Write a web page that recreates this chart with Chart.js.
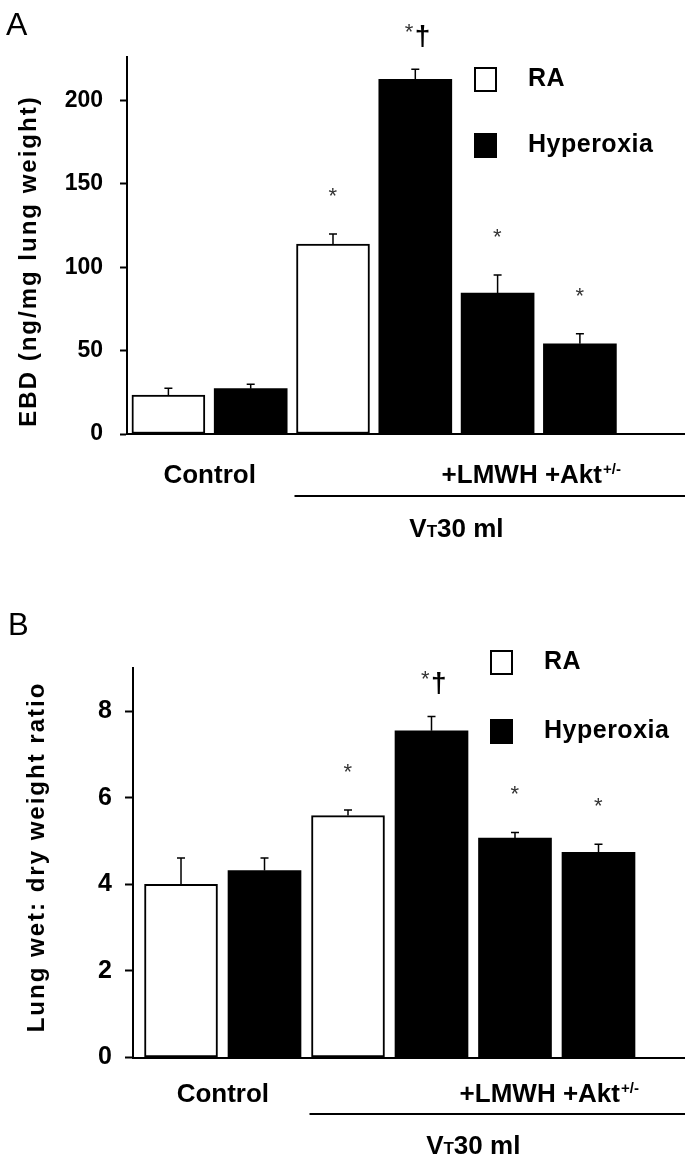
<!DOCTYPE html>
<html>
<head>
<meta charset="utf-8">
<script src="https://cdn.jsdelivr.net/npm/chart.js@4.4.1/dist/chart.umd.min.js"></script>
<style>
  body { margin: 0; background: #fff; }
  .panel { position: relative; width: 685px; height: 586px; }
  canvas { display: block; }
</style>
</head>
<body>
<div class="panel"><canvas id="chartA" width="685" height="586"></canvas></div>
<div class="panel"><canvas id="chartB" width="685" height="586"></canvas></div>
<script>
const FONT = '"Liberation Sans", Arial, sans-serif'

// bar order along the x axis
const barNames = ['Control RA', 'Control Hyperoxia', 'VT30 RA', 'VT30 Hyperoxia', 'VT30 +LMWH', 'VT30 +Akt+/-']
const raBars = [0, 2]
const hyperBars = [1, 3, 4, 5]
const marks = ['', '', '*', '*†', '*', '*']

// A: Evans blue dye
const ebdRA = [23.4, 113.9]
const ebdRAErr = [4.0, 6.0]
const ebdHyper = [27.2, 212.6, 84.5, 54.1]
const ebdHyperErr = [2.6, 6.0, 10.8, 6.0]
const ebdTicks = [0, 50, 100, 150, 200]

// B: wet/dry ratio
const wdRA = [4.0, 5.59]
const wdRAErr = [0.61, 0.13]
const wdHyper = [4.32, 7.55, 5.07, 4.74]
const wdHyperErr = [0.29, 0.33, 0.13, 0.19]
const wdTicks = [0, 2, 4, 6, 8]

function points(idx, vals) {
  return idx.map((x, i) => ({ x: x, y: vals[i] }))
}

// draw text centred on its ink box
function centerText(ctx, s, cx, cy) {
  ctx.textAlign = 'left'
  ctx.textBaseline = 'alphabetic'
  const m = ctx.measureText(s)
  const x = cx - (m.actualBoundingBoxRight - m.actualBoundingBoxLeft) / 2
  const y = cy + (m.actualBoundingBoxAscent - m.actualBoundingBoxDescent) / 2
  ctx.fillText(s, x, y)
}

const decor = {
  id: 'decor',
  afterDatasetsDraw(chart) {
    const { ctx, scales: { x, y } } = chart
    ctx.save()
    ctx.strokeStyle = '#000'
    ctx.lineWidth = 1.5
    chart.data.datasets.forEach(ds => {
      ds.data.forEach((p, i) => {
        const px = x.getPixelForValue(p.x)
        const y0 = y.getPixelForValue(p.y)
        const y1 = y.getPixelForValue(p.y + ds.errors[i])
        ctx.beginPath()
        ctx.moveTo(px, y0)
        ctx.lineTo(px, y1)
        ctx.moveTo(px - 4, y1)
        ctx.lineTo(px + 4, y1)
        ctx.stroke()
      })
    })
    ctx.restore()
  },
  afterDraw(chart, args, o) {
    const { ctx, scales: { x, y }, chartArea } = chart
    ctx.save()
    ctx.fillStyle = '#000'

    // significance marks
    const tops = []
    chart.data.datasets.forEach(ds => ds.data.forEach((p, i) => {
      tops[p.x] = y.getPixelForValue(p.y + ds.errors[i])
    }))
    marks.forEach((m, i) => {
      if (!m) return
      const cx = x.getPixelForValue(i)
      ctx.fillStyle = '#333'
      ctx.font = '22px ' + FONT
      if (m === '*') {
        centerText(ctx, '*', cx, tops[i] - 42)
      } else {
        centerText(ctx, '*', cx - 6, tops[i] - 41)
        ctx.fillStyle = '#000'
        ctx.font = 'bold 28px ' + FONT
        centerText(ctx, '†', cx + 7, tops[i] - 33)
      }
    })
    ctx.fillStyle = '#000'

    // panel letter
    ctx.font = o.letterSize + 'px ' + FONT
    ctx.textAlign = 'left'
    ctx.textBaseline = 'alphabetic'
    ctx.fillText(o.letter, o.letterX, o.letterY)

    // y title
    ctx.save()
    ctx.translate(o.titleX, o.titleY)
    ctx.rotate(-Math.PI / 2)
    ctx.font = 'bold 24px ' + FONT
    ctx.letterSpacing = '2px'
    ctx.textAlign = 'center'
    ctx.textBaseline = 'middle'
    ctx.fillText(o.title, 0, 0)
    ctx.restore()

    // legend
    ctx.lineWidth = 2
    ctx.strokeStyle = '#000'
    ctx.strokeRect(o.legendX + 1, o.legendY + 1, 21, 23)
    ctx.fillRect(o.legendX, o.legendY + o.legendGap, 23, 25)
    ctx.font = 'bold 25px ' + FONT
    ctx.letterSpacing = '0.5px'
    ctx.textAlign = 'left'
    ctx.textBaseline = 'alphabetic'
    ctx.fillText('RA', o.legendX + 54, o.legendY + 19)
    ctx.fillText('Hyperoxia', o.legendX + 54, o.legendY + o.legendGap + 19)
    ctx.letterSpacing = '0px'

    // group labels under the axis
    const base = chartArea.bottom
    const c = i => x.getPixelForValue(i)
    ctx.font = 'bold 26px ' + FONT
    centerText(ctx, 'Control', (c(0) + c(1)) / 2, base + o.labelDy)

    const main = '+LMWH +Akt', sup = '+/-'
    const w1 = ctx.measureText(main).width
    ctx.font = 'bold 15px ' + FONT
    const w2 = ctx.measureText(sup).width
    let sx = (c(4) + c(5)) / 2 - 8 - (w1 + w2) / 2
    ctx.font = 'bold 26px ' + FONT
    const mm = ctx.measureText(main)
    const by = base + o.labelDy + (mm.actualBoundingBoxAscent - mm.actualBoundingBoxDescent) / 2
    ctx.fillText(main, sx, by)
    ctx.font = 'bold 15px ' + FONT
    ctx.fillText(sup, sx + w1 + 1, by - 9)

    // underline for the ventilated groups
    const barHalf = 36.5
    ctx.beginPath()
    ctx.lineWidth = 2
    ctx.moveTo(c(2) - barHalf - 2, base + o.lineDy)
    ctx.lineTo(chart.width, base + o.lineDy)
    ctx.stroke()

    // VT30 ml with small-cap T
    const parts = [['V', 26], ['T', 17], ['30 ml', 26]]
    const widths = parts.map(p => { ctx.font = 'bold ' + p[1] + 'px ' + FONT; return ctx.measureText(p[0]).width })
    ctx.font = 'bold 26px ' + FONT
    const vm = ctx.measureText('V30')
    const vy = base + o.vtDy + (vm.actualBoundingBoxAscent - vm.actualBoundingBoxDescent) / 2
    let vx = (c(3) + c(4)) / 2 - widths.reduce((a, b) => a + b, 0) / 2
    parts.forEach((p, i) => {
      ctx.font = 'bold ' + p[1] + 'px ' + FONT
      ctx.fillText(p[0], vx, vy)
      vx += widths[i]
    })
    ctx.restore()
  }
}

function makePanel(id, cfg) {
  return new Chart(document.getElementById(id), {
    type: 'bar',
    data: {
      datasets: [
        {
          label: 'RA',
          data: points(raBars, cfg.ra),
          errors: cfg.raErr,
          backgroundColor: '#fff',
          borderColor: '#000',
          borderWidth: 2,
          borderSkipped: false,
          barThickness: 73,
          grouped: false
        },
        {
          label: 'Hyperoxia',
          data: points(hyperBars, cfg.hyper),
          errors: cfg.hyperErr,
          backgroundColor: '#000',
          borderWidth: 0,
          barThickness: 73,
          grouped: false
        }
      ]
    },
    options: {
      responsive: false,
      animation: false,
      layout: { padding: { left: 0, right: 0, top: cfg.padTop, bottom: cfg.padBottom } },
      plugins: {
        legend: { display: false },
        tooltip: { enabled: false },
        decor: cfg.decor
      },
      scales: {
        x: {
          type: 'linear',
          offset: false,
          min: cfg.xMin,
          max: cfg.xMax,
          grid: { display: false },
          ticks: { display: false },
          border: { color: '#000', width: 2 },
          afterFit: s => { s.height = 0 }
        },
        y: {
          min: 0,
          max: cfg.yMax,
          afterBuildTicks: s => { s.ticks = cfg.ticks.map(v => ({ value: v })) },
          grid: { drawOnChartArea: false, color: '#000', tickLength: cfg.tickLen, tickWidth: 2 },
          border: { color: '#000', width: 2 },
          ticks: {
            color: '#000',
            padding: cfg.tickPad,
            font: { family: FONT, size: cfg.tickFont, weight: 'bold' }
          },
          afterFit: s => { s.width = cfg.axisW }
        }
      }
    },
    plugins: [decor]
  })
}

makePanel('chartA', {
  ra: ebdRA, raErr: ebdRAErr, hyper: ebdHyper, hyperErr: ebdHyperErr, ticks: ebdTicks,
  yMax: 226, xMin: -0.503, xMax: 6.277, axisW: 127, padTop: 57, padBottom: 152,
  tickFont: 23, tickLen: 7, tickPad: 17,
  decor: {
    letter: 'A', letterSize: 32, letterX: 6, letterY: 35,
    title: 'EBD (ng/mg lung weight)', titleX: 29, titleY: 261,
    legendX: 474, legendY: 67, legendGap: 66,
    labelDy: 39, lineDy: 62, vtDy: 94
  }
})

makePanel('chartB', {
  ra: wdRA, raErr: wdRAErr, hyper: wdHyper, hyperErr: wdHyperErr, ticks: wdTicks,
  yMax: 9, xMin: -0.575, xMax: 6.036, axisW: 133, padTop: 82, padBottom: 114.5,
  tickFont: 25, tickLen: 8, tickPad: 13,
  decor: {
    letter: 'B', letterSize: 31, letterX: 8, letterY: 49,
    title: 'Lung wet: dry weight ratio', titleX: 37, titleY: 271,
    legendX: 490, legendY: 64, legendGap: 69,
    labelDy: 34.5, lineDy: 56.5, vtDy: 87.5
  }
})
</script>
</body>
</html>
